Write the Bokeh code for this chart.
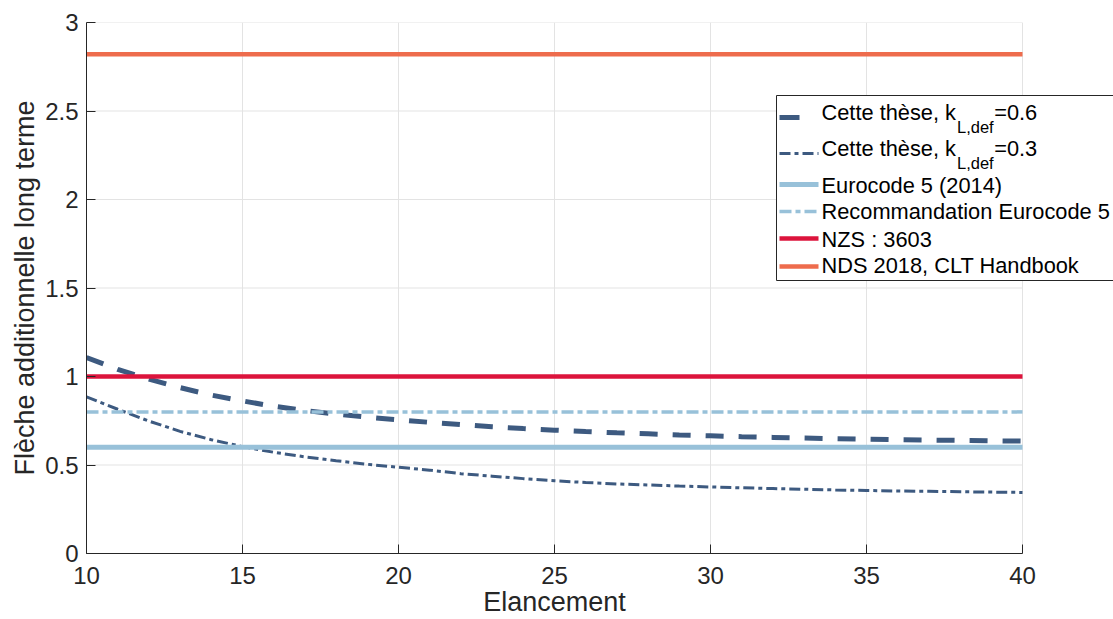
from bokeh.plotting import figure
from bokeh.models import Range1d, FixedTicker, Label, BoxAnnotation, Arrow, Title
from bokeh.embed import file_html
from bokeh.resources import INLINE

# ---------------- data ----------------
elancement = [10, 11, 12, 13, 14, 15, 16, 17, 18, 19, 20, 21, 22, 23, 24, 25,
              26, 27, 28, 29, 30, 31, 32, 33, 34, 35, 36, 37, 38, 39, 40]
fleche_k06 = [1.107, 1.040, 0.985, 0.937, 0.895, 0.862, 0.832, 0.808, 0.788, 0.770,
              0.755, 0.741, 0.728, 0.716, 0.706, 0.697, 0.689, 0.682, 0.676, 0.670,
              0.665, 0.660, 0.656, 0.652, 0.649, 0.646, 0.643, 0.641, 0.639, 0.637, 0.635]
fleche_k03 = [0.885, 0.815, 0.748, 0.690, 0.643, 0.604, 0.572, 0.546, 0.524, 0.504,
              0.487, 0.471, 0.451, 0.437, 0.423, 0.411, 0.401, 0.393, 0.387, 0.381,
              0.376, 0.371, 0.367, 0.363, 0.359, 0.356, 0.353, 0.351, 0.349, 0.347, 0.345]
x_limits = [10, 40]
eurocode5_2014 = [0.6, 0.6]
recommandation_ec5 = [0.8, 0.8]
nzs_3603 = [1.0, 1.0]
nds_2018 = [2.82, 2.82]

x_ticks = [10, 15, 20, 25, 30, 35, 40]
y_ticks = [0, 0.5, 1, 1.5, 2, 2.5, 3]
y_tick_labels = ["0", "0.5", "1", "1.5", "2", "2.5", "3"]

x_label = "Elancement"
y_label = "Flèche additionnelle long terme"

# ---------------- styles / layout ----------------
DARK = "#3D5A80"
LIGHT = "#98C1D9"
RED = "#DC143C"
ORANGE = "#EE6C4D"
AX = "#262626"
GRID = "#E3E3E3"
FONT = "Liberation Sans"

W, H = 1113, 619
AXIS_LEFT_PX, AXIS_RIGHT_PX = 86, 1022     # where x=10 and x=40 sit
AXIS_TOP_PX, AXIS_BOTTOM_PX = 22, 553      # where y=3 and y=0 sit
BL, BR, BT, BB = AXIS_LEFT_PX, 0, AXIS_TOP_PX, H - AXIS_BOTTOM_PX
XLABEL_FONT_PX = 27
XLABEL_EM_WIDTH = 5.28                      # width of "Elancement" in em

# the plotting frame is extended to the right edge so that the legend can overflow
px_per_x = (AXIS_RIGHT_PX - AXIS_LEFT_PX) / (x_limits[1] - x_limits[0])
x_end = x_limits[0] + (W - AXIS_LEFT_PX) / px_per_x

p = figure(width=W, height=H, output_backend="svg", toolbar_location=None,
           x_range=Range1d(x_limits[0], x_end), y_range=Range1d(y_ticks[0], y_ticks[-1]),
           min_border_left=BL, min_border_right=BR, min_border_top=BT, min_border_bottom=BB)
p.outline_line_color = None
p.background_fill_color = "white"
p.border_fill_color = "white"

p.xaxis.ticker = FixedTicker(ticks=x_ticks)
p.xaxis.bounds = (x_limits[0], x_limits[1])
p.yaxis.ticker = FixedTicker(ticks=y_ticks)
p.yaxis.major_label_overrides = {t: s for t, s in zip(y_ticks, y_tick_labels)}
p.xgrid.ticker = FixedTicker(ticks=x_ticks)
p.xgrid.grid_line_color = GRID
p.xgrid.grid_line_width = 1
p.ygrid.grid_line_color = None

for ax in (p.xaxis[0], p.yaxis[0]):
    ax.axis_line_color = AX
    ax.axis_line_width = 1
    ax.major_tick_line_color = AX
    ax.major_tick_in = 9
    ax.major_tick_out = 0
    ax.minor_tick_line_color = None
    ax.major_label_text_font = FONT
    ax.major_label_text_font_size = "24px"
    ax.major_label_text_color = AX
    ax.axis_label_text_font = FONT
    ax.axis_label_text_font_size = "27px"
    ax.axis_label_text_font_style = "normal"
    ax.axis_label_text_color = AX
p.yaxis.axis_label = y_label
p.xaxis.major_label_standoff = 13
p.yaxis.major_label_standoff = 8
p.yaxis.axis_label_standoff = 2

# x-axis title centred under the x=10..40 span (the frame itself is wider)
center_px = (AXIS_LEFT_PX + AXIS_RIGHT_PX) / 2
xtitle = Title(text=x_label, align="left",
               offset=center_px - AXIS_LEFT_PX - XLABEL_EM_WIDTH * XLABEL_FONT_PX / 2,
               vertical_align="top", standoff=0,
               text_font=FONT, text_font_size=f"{XLABEL_FONT_PX}px",
               text_font_style="normal", text_color=AX)
p.add_layout(xtitle, "below")

# horizontal grid lines limited to the x span of the axes
p.segment(x0=[x_limits[0]] * len(y_ticks), y0=y_ticks,
          x1=[x_limits[1]] * len(y_ticks), y1=y_ticks,
          line_color=GRID, line_width=1)

# ---------------- series ----------------
p.line(elancement, fleche_k06, line_color=DARK, line_width=5, line_dash="18 15")
p.line(elancement, fleche_k03, line_color=DARK, line_width=3, line_dash="11 4 4 4")
p.line(x_limits, eurocode5_2014, line_color=LIGHT, line_width=5)
p.line(x_limits, recommandation_ec5, line_color=LIGHT, line_width=3.5, line_dash="12 4 5 4")
p.line(x_limits, nzs_3603, line_color=RED, line_width=4.5)
p.line(x_limits, nds_2018, line_color=ORANGE, line_width=4.5)

# ---------------- legend (picture pixels -> data) ----------------
def dx(px):
    return x_limits[0] + (px - AXIS_LEFT_PX) / px_per_x
def dy(py):
    return y_ticks[-1] - (py - AXIS_TOP_PX) * (y_ticks[-1] - y_ticks[0]) / (AXIS_BOTTOM_PX - AXIS_TOP_PX)

p.add_layout(BoxAnnotation(left=dx(776), right=dx(W + 50), top=dy(95), bottom=dy(280),
                           fill_color="white", fill_alpha=1.0,
                           line_color=AX, line_width=1, line_alpha=1.0))

LEG_FS = 21.8
SUB_FS = 16.5
legend_rows = [
    (["Cette thèse, k", "L,def", "=0.6"], DARK, 5, "20 20"),
    (["Cette thèse, k", "L,def", "=0.3"], DARK, 3, "11 4 4 4"),
    (["Eurocode 5 (2014)"], LIGHT, 5, "solid"),
    (["Recommandation Eurocode 5"], LIGHT, 3.5, "12 4 5 4"),
    (["NZS : 3603"], RED, 4.5, "solid"),
    (["NDS 2018, CLT Handbook"], ORANGE, 4.5, "solid"),
]
line_y = [117, 153, 184, 211, 238, 266]
text_y = [112, 148, 185, 211, 239, 265]
TEXT_X = 821
K_EM = 6.17      # width of "Cette thèse, k" in em
SUB_EM = 2.224   # width of "L,def" in em

for (parts, col, lw, dash), ly, ty in zip(legend_rows, line_y, text_y):
    p.add_layout(Arrow(end=None, x_start=dx(779), y_start=dy(ly), x_end=dx(818), y_end=dy(ly),
                       line_color=col, line_width=lw, line_dash=dash))
    p.add_layout(Label(x=dx(TEXT_X), y=dy(ty), text=parts[0], text_font=FONT,
                       text_font_size=f"{LEG_FS}px", text_color="black", text_baseline="middle"))
    if len(parts) == 3:
        sub_x = TEXT_X + K_EM * LEG_FS + 1
        p.add_layout(Label(x=dx(sub_x), y=dy(ty + 14), text=parts[1], text_font=FONT,
                           text_font_size=f"{SUB_FS}px", text_color="black", text_baseline="middle"))
        p.add_layout(Label(x=dx(sub_x + SUB_EM * SUB_FS + 0.5), y=dy(ty), text=parts[2], text_font=FONT,
                           text_font_size=f"{LEG_FS}px", text_color="black", text_baseline="middle"))

open("out.html", "w").write(file_html(p, INLINE))
